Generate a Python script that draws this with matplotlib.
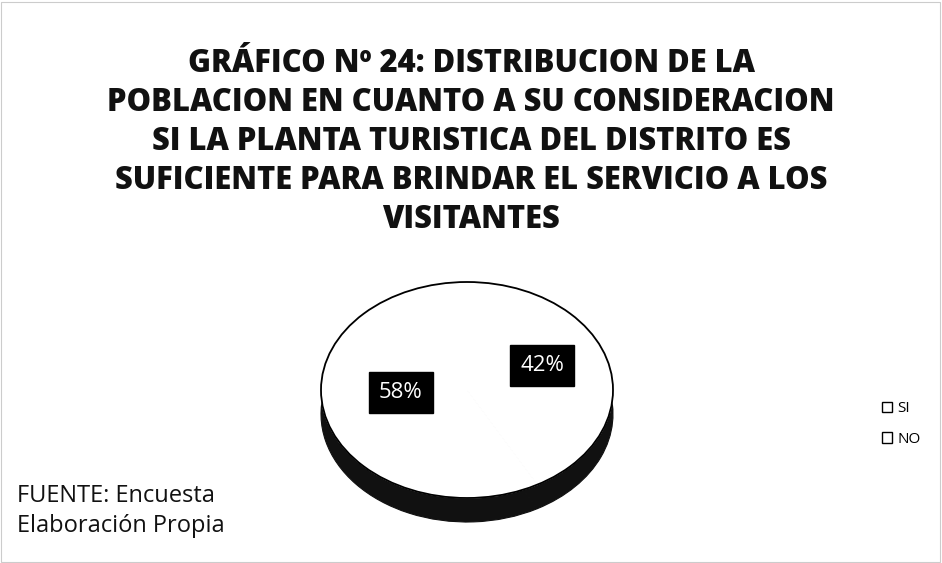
import matplotlib.pyplot as plt
from matplotlib.patches import Patch, Rectangle

categories = ['SI', 'NO']
values = [42, 58]
title = ("GRÁFICO Nº 24: DISTRIBUCION DE LA\n"
         "POBLACION EN CUANTO A SU CONSIDERACION\n"
         "SI LA PLANTA TURISTICA DEL DISTRITO ES\n"
         "SUFICIENTE PARA BRINDAR EL SERVICIO A LOS\n"
         "VISITANTES")
source_lines = ['FUENTE: Encuesta', 'Elaboración Propia']

W, H = 942, 563
fig = plt.figure(figsize=(W / 100, H / 100), dpi=100)
fig.patch.set_facecolor('white')

# pie geometry in pixels
cx, cy = 467, H - 390
rx, ry = 146, 108
depth = 24 / ry

ax_l, ax_r = cx - 170, cx + 170
ax_b, ax_t = cy - ry - 45, cy + ry + 15
ax = fig.add_axes([ax_l / W, ax_b / H, (ax_r - ax_l) / W, (ax_t - ax_b) / H])

# dark side of the 3d pie
ax.pie(values, radius=1, center=(0, -depth), startangle=90, counterclock=False,
       colors=['#111111', '#111111'],
       wedgeprops=dict(linewidth=0.8, edgecolor='#111111'))
ax.add_patch(Rectangle((-1, -depth), 2, depth, facecolor='#111111', edgecolor='none'))

# top face
wedges, texts, autotexts = ax.pie(
    values, radius=1, center=(0, 0), startangle=90, counterclock=False,
    colors=['white', 'white'], autopct='%1.0f%%', pctdistance=0.5,
    wedgeprops=dict(linewidth=0.8, edgecolor='white'),
    textprops=dict(color='white', fontsize=16, family='Open Sans'))
for t in autotexts:
    x, y = t.get_position()
    t.set_position((x + 0.03, y + 0.1))
    t.set_bbox(dict(facecolor='black', edgecolor='black', boxstyle='square,pad=0.45'))
outline = plt.Circle((0, 0), 1, fill=False, edgecolor='black', linewidth=1.3)
ax.add_patch(outline)

ax.set_aspect('auto')
ax.set_xlim((ax_l - cx) / rx, (ax_r - cx) / rx)
ax.set_ylim((ax_b - cy) / ry, (ax_t - cy) / ry)
ax.axis('off')

fig.text(0.5, 1 - 142 / H, title, ha='center', va='center', fontsize=22.2,
         fontweight='extra bold', family='Open Sans', linespacing=1.3, color='#111111')

fig.text(17 / W, 1 - 511 / H, '\n'.join(source_lines), ha='left', va='center',
         fontsize=17, family='Open Sans', linespacing=1.33, color='#111111')

handles = [Patch(facecolor='white', edgecolor='black', linewidth=1) for _ in categories]
fig.legend(handles, categories, loc='center left', bbox_to_anchor=(868 / W, 1 - 424 / H),
           frameon=False, handlelength=0.7, handleheight=0.7,
           handletextpad=0.3, labelspacing=1.0, prop=dict(family='Open Sans', size=11))

fig.add_artist(Rectangle((1 / W, 1 / H), (W - 3) / W, (H - 3) / H, transform=fig.transFigure,
                         fill=False, edgecolor='#cccccc', linewidth=0.8))

fig.savefig('out.png', dpi=100, facecolor='white')
